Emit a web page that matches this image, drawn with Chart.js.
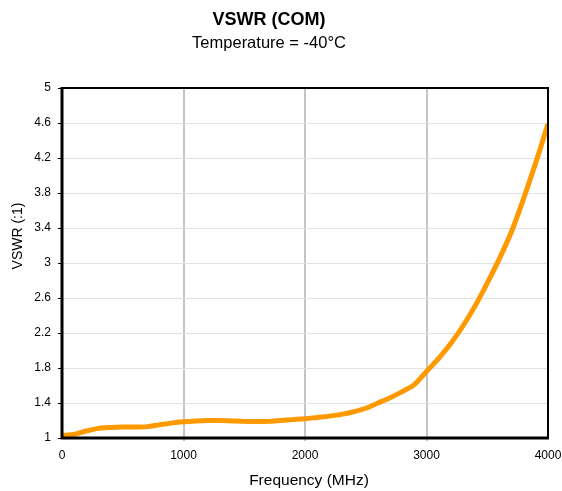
<!DOCTYPE html>
<html>
<head>
<meta charset="utf-8">
<script src="https://cdn.jsdelivr.net/npm/chart.js@4.4.0/dist/chart.umd.min.js"></script>
<style>
  html, body { margin: 0; padding: 0; background: #fff; }
  #wrap { width: 562px; height: 491px; }
</style>
</head>
<body>
<div id="wrap"><canvas id="vswrChart" width="562" height="491"></canvas></div>
<script>
// Frequency in MHz and VSWR
const frequencies = [0, 100, 200, 300, 400, 500, 600, 700, 800, 900, 1000,
    1100, 1200, 1300, 1400, 1500, 1600, 1700, 1800, 1900, 2000,
    2100, 2200, 2300, 2400, 2500, 2600, 2700, 2800, 2900, 3000,
    3100, 3200, 3300, 3400, 3500, 3600, 3700, 3800, 3900, 4000];
const vswrValues = [1.03, 1.04, 1.08, 1.11, 1.12, 1.125, 1.125, 1.13, 1.15, 1.17, 1.185,
    1.195, 1.20, 1.20, 1.195, 1.19, 1.19, 1.19, 1.20, 1.21, 1.22,
    1.235, 1.25, 1.27, 1.30, 1.34, 1.40, 1.46, 1.53, 1.61, 1.76,
    1.91, 2.08, 2.28, 2.51, 2.77, 3.05, 3.36, 3.74, 4.15, 4.59];
const xTicks = [0, 1000, 2000, 3000, 4000];
const yTicks = [1, 1.4, 1.8, 2.2, 2.6, 3, 3.4, 3.8, 4.2, 4.6, 5];

const chartTitle = 'VSWR (COM)';
const chartSubtitle = 'Temperature = -40°C';
const xTitle = 'Frequency (MHz)';
const yTitle = 'VSWR (:1)';
const fontFamily = '"Liberation Sans", Arial, Helvetica, sans-serif';

// titles and frame drawn by hand so they sit where the original has them
const framePlugin = {
    id: 'frame',
    afterDatasetsDraw(chart) {
        const ctx = chart.ctx;
        const a = chart.chartArea;
        ctx.save();
        ctx.strokeStyle = '#000';
        ctx.lineWidth = 2;
        ctx.beginPath();
        ctx.moveTo(a.left, a.top);
        ctx.lineTo(a.right, a.top);
        ctx.lineTo(a.right, a.bottom);
        ctx.stroke();
        ctx.lineWidth = 3;
        ctx.beginPath();
        ctx.moveTo(a.left, a.top - 1);
        ctx.lineTo(a.left, a.bottom);
        ctx.lineTo(a.right + 1, a.bottom);
        ctx.stroke();
        ctx.restore();
    },
    afterDraw(chart) {
        const ctx = chart.ctx;
        ctx.save();
        ctx.fillStyle = '#000';
        ctx.textAlign = 'center';
        ctx.textBaseline = 'alphabetic';
        ctx.font = 'bold 18px ' + fontFamily;
        ctx.fillText(chartTitle, 269, 25);
        ctx.font = '16.5px ' + fontFamily;
        ctx.fillText(chartSubtitle, 269, 48);
        ctx.font = '15.5px ' + fontFamily;
        ctx.textBaseline = 'middle';
        ctx.fillText(xTitle, 309, 481);
        ctx.translate(18, 236);
        ctx.rotate(-Math.PI / 2);
        ctx.font = '14px ' + fontFamily;
        ctx.fillText(yTitle, 0, 0);
        ctx.restore();
    }
};

const ctx = document.getElementById('vswrChart').getContext('2d');
new Chart(ctx, {
    type: 'line',
    data: {
        datasets: [{
            data: frequencies.map((f, i) => ({ x: f, y: vswrValues[i] })),
            borderColor: '#FF9900',
            borderWidth: 5,
            pointRadius: 0,
            tension: 0.3,
            fill: false
        }]
    },
    options: {
        responsive: false,
        animation: false,
        layout: { padding: { top: 88, right: 14, left: 0, bottom: 0 } },
        plugins: {
            legend: { display: false },
            title: { display: false },
            tooltip: { enabled: false }
        },
        scales: {
            x: {
                type: 'linear',
                min: 0,
                max: 4000,
                afterBuildTicks: scale => { scale.ticks = xTicks.map(v => ({ value: v })); },
                afterFit: scale => {
                    scale.height = 53;
                    scale.paddingLeft = 0;
                    scale.paddingRight = 0;
                },
                border: { display: false },
                grid: {
                    color: c => (c.tick && (c.tick.value === 0 || c.tick.value === 4000)) ? 'rgba(0,0,0,0)' : '#c4c4c4',
                    lineWidth: 2,
                    drawTicks: true,
                    tickLength: 3
                },
                ticks: {
                    color: '#000',
                    font: { family: fontFamily, size: 12 },
                    padding: 7,
                    maxRotation: 0,
                    callback: v => String(v)
                }
            },
            y: {
                type: 'linear',
                min: 1,
                max: 5,
                afterBuildTicks: scale => { scale.ticks = yTicks.map(v => ({ value: v })); },
                afterFit: scale => {
                    scale.width = 62;
                    scale.paddingTop = 0;
                    scale.paddingBottom = 0;
                },
                border: { display: false },
                grid: {
                    color: c => (c.tick && (c.tick.value === 1 || c.tick.value === 5)) ? 'rgba(0,0,0,0)' : '#e2e2e2',
                    lineWidth: 1,
                    tickColor: '#000',
                    tickLength: 4
                },
                ticks: {
                    color: '#000',
                    font: { family: fontFamily, size: 12 },
                    padding: 7,
                    callback: v => String(Math.round(v * 10) / 10)
                }
            }
        }
    },
    plugins: [framePlugin]
});
</script>
</body>
</html>
